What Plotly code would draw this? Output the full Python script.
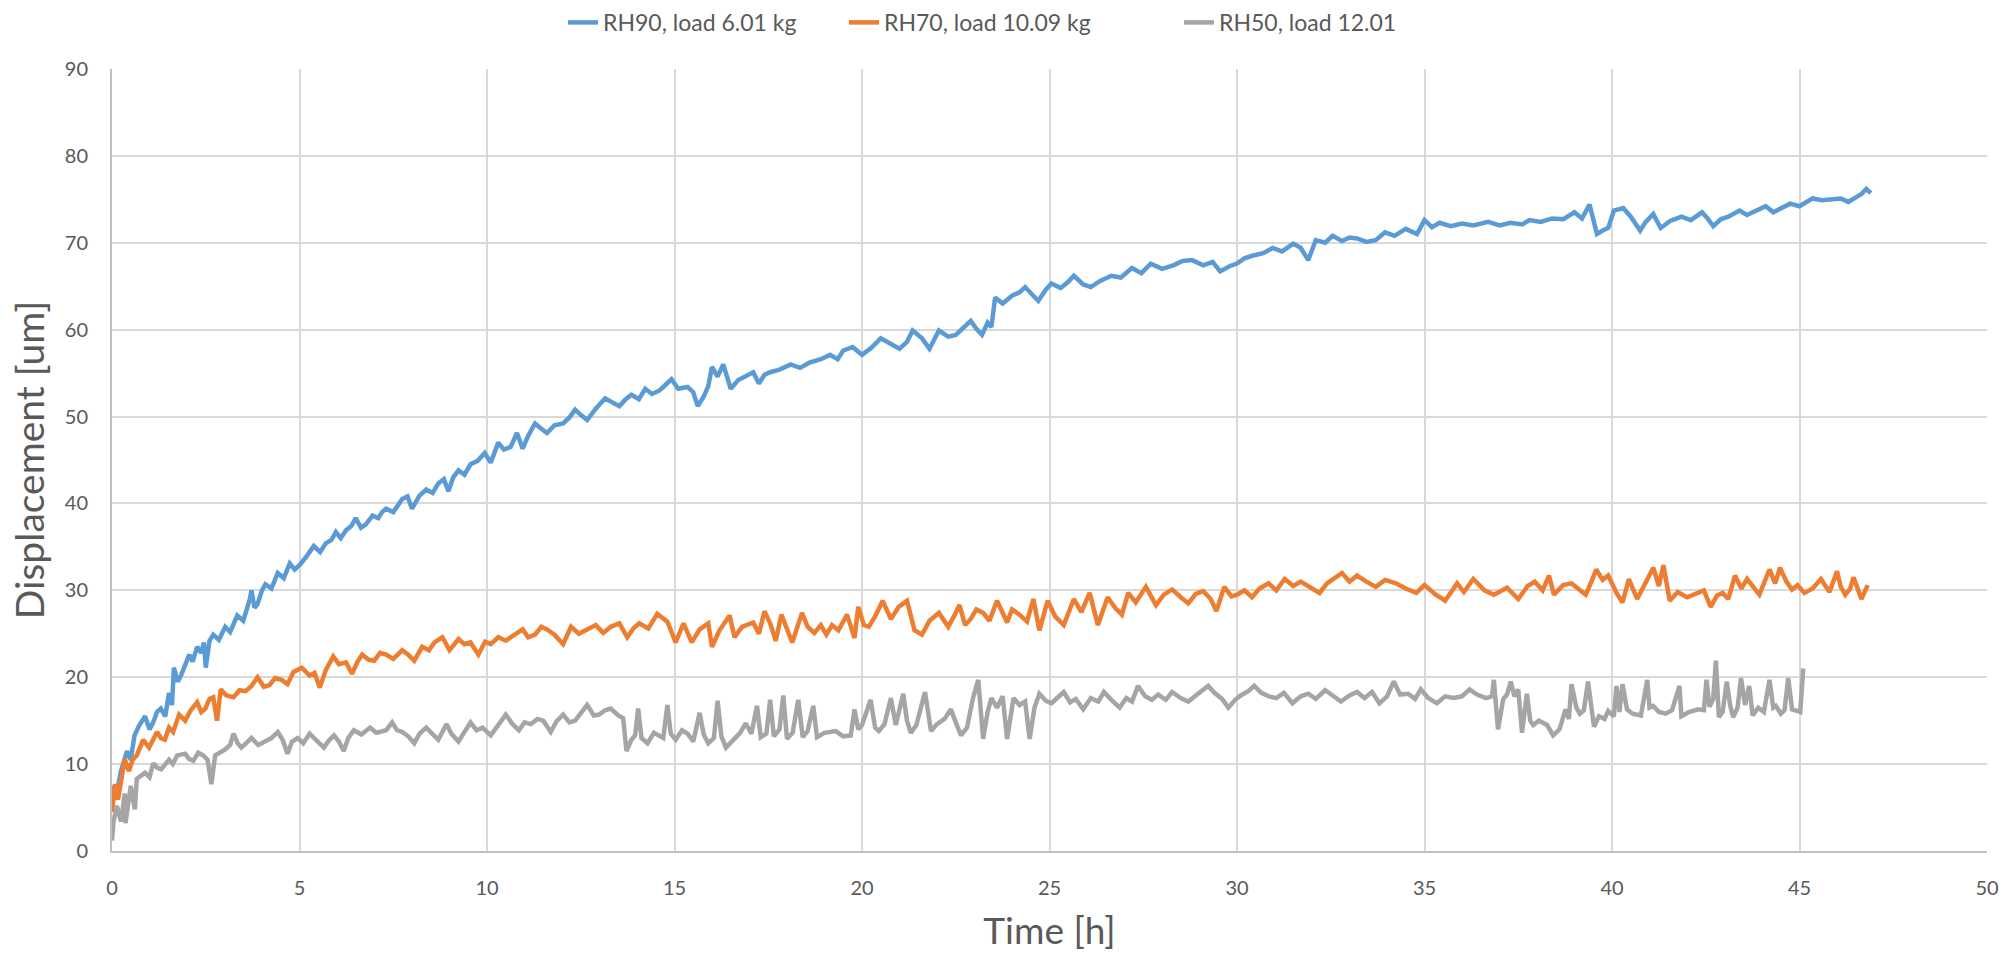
import plotly.graph_objects as go

# Creep displacement [um] vs time [h], sampled (time, displacement) readings per test
rh90 = [
    (0, 5.0), (0.05, 7.5), (0.12, 6.5), (0.24, 9.2), (0.4, 11.5), (0.5, 10.5), (0.6, 13.3), (0.72, 14.4),
    (0.88, 15.5), (1.0, 14.0), (1.1, 14.8), (1.2, 16.0), (1.3, 16.4), (1.42, 15.5), (1.52, 18.2), (1.6, 16.8),
    (1.65, 21.1), (1.75, 19.5), (1.84, 20.2), (1.95, 21.5), (2.06, 22.6), (2.15, 21.8), (2.27, 23.5), (2.38, 22.8),
    (2.45, 24.0), (2.5, 21.1), (2.6, 24.2), (2.7, 24.9), (2.85, 24.3), (3.02, 25.8), (3.15, 25.2), (3.34, 27.1),
    (3.5, 26.5), (3.67, 28.9), (3.72, 30.0), (3.8, 28.0), (3.88, 28.4), (4.0, 30.0), (4.09, 30.7), (4.25, 30.2),
    (4.42, 32.0), (4.58, 31.4), (4.74, 33.1), (4.87, 32.4), (5.0, 32.9), (5.17, 33.8), (5.38, 35.1), (5.55, 34.4),
    (5.7, 35.4), (5.85, 35.8), (5.97, 36.7), (6.1, 36.0), (6.24, 36.9), (6.38, 37.4), (6.5, 38.3), (6.64, 37.2),
    (6.77, 37.6), (6.95, 38.6), (7.1, 38.3), (7.2, 39.0), (7.31, 39.4), (7.5, 39.0), (7.74, 40.5), (7.88, 40.8),
    (8.0, 39.4), (8.2, 40.9), (8.38, 41.6), (8.55, 41.2), (8.7, 42.3), (8.85, 42.8), (8.97, 41.4), (9.1, 43.0),
    (9.24, 43.8), (9.4, 43.3), (9.56, 44.5), (9.75, 44.9), (9.94, 45.8), (10.1, 44.7), (10.3, 47.0), (10.45, 46.2),
    (10.63, 46.5), (10.8, 48.1), (10.95, 46.3), (11.1, 47.8), (11.28, 49.2), (11.45, 48.6), (11.6, 48.1), (11.8, 49.0),
    (12.03, 49.2), (12.2, 49.9), (12.35, 50.8), (12.5, 50.2), (12.67, 49.6), (12.9, 50.9), (13.15, 52.1), (13.35, 51.6),
    (13.53, 51.2), (13.7, 52.0), (13.85, 52.5), (14.05, 52.0), (14.22, 53.2), (14.4, 52.6), (14.6, 53.0), (14.75, 53.6),
    (14.92, 54.3), (15.1, 53.2), (15.35, 53.4), (15.5, 52.8), (15.62, 51.2), (15.78, 52.3), (15.9, 53.5), (16.0, 55.7),
    (16.15, 54.6), (16.3, 56.0), (16.5, 53.2), (16.7, 54.2), (16.9, 54.6), (17.1, 55.1), (17.25, 53.8), (17.4, 54.8),
    (17.55, 55.1), (17.8, 55.4), (18.1, 56.0), (18.35, 55.6), (18.6, 56.2), (18.9, 56.6), (19.15, 57.1), (19.35, 56.6),
    (19.5, 57.6), (19.75, 58.0), (20.0, 57.1), (20.25, 57.9), (20.5, 59.0), (20.75, 58.4), (21.0, 57.8), (21.2, 58.6),
    (21.35, 59.9), (21.6, 59.0), (21.8, 57.8), (22.05, 59.9), (22.3, 59.2), (22.5, 59.4), (22.7, 60.2), (22.9, 61.0),
    (23.05, 60.1), (23.2, 59.4), (23.35, 60.8), (23.45, 60.3), (23.55, 63.7), (23.75, 63.0), (24.0, 63.9), (24.2, 64.3),
    (24.35, 64.9), (24.55, 64.0), (24.7, 63.3), (24.9, 64.6), (25.05, 65.3), (25.3, 64.8), (25.5, 65.5), (25.65, 66.2),
    (25.9, 65.2), (26.1, 64.9), (26.35, 65.6), (26.65, 66.2), (26.9, 66.0), (27.2, 67.1), (27.45, 66.5), (27.7, 67.6),
    (28.0, 67.0), (28.3, 67.4), (28.55, 67.9), (28.8, 68.0), (29.1, 67.4), (29.35, 67.8), (29.55, 66.7), (29.8, 67.3),
    (30.0, 67.6), (30.2, 68.2), (30.4, 68.5), (30.7, 68.8), (30.95, 69.4), (31.2, 69.0), (31.5, 69.9), (31.7, 69.4),
    (31.9, 68.0), (32.1, 70.3), (32.35, 70.0), (32.55, 70.8), (32.8, 70.2), (33.0, 70.6), (33.2, 70.5), (33.45, 70.1),
    (33.7, 70.3), (33.95, 71.2), (34.2, 70.8), (34.5, 71.6), (34.8, 71.0), (35.0, 72.6), (35.2, 71.8), (35.4, 72.3),
    (35.7, 71.9), (36.0, 72.2), (36.3, 72.0), (36.7, 72.4), (37.0, 72.0), (37.3, 72.3), (37.6, 72.1), (37.8, 72.6),
    (38.1, 72.4), (38.4, 72.8), (38.7, 72.7), (39.0, 73.5), (39.2, 72.8), (39.4, 74.4), (39.6, 71.0), (39.75, 71.4),
    (39.9, 71.7), (40.05, 73.7), (40.3, 74.0), (40.5, 73.0), (40.75, 71.4), (40.9, 72.4), (41.1, 73.3), (41.3, 71.7),
    (41.55, 72.5), (41.85, 73.0), (42.1, 72.6), (42.4, 73.5), (42.55, 72.8), (42.7, 71.9), (42.9, 72.7), (43.1, 73.0),
    (43.4, 73.7), (43.6, 73.2), (43.8, 73.6), (44.1, 74.2), (44.3, 73.5), (44.5, 74.0), (44.75, 74.5), (45.0, 74.2),
    (45.2, 74.8), (45.35, 75.1), (45.6, 74.9), (45.85, 75.0), (46.1, 75.1), (46.3, 74.7), (46.5, 75.3), (46.65, 75.6),
    (46.78, 76.2), (46.9, 75.7),
]

rh70 = [
    (0, 4.5), (0.08, 7.7), (0.16, 5.9), (0.25, 8.5), (0.34, 10.6), (0.45, 9.2), (0.55, 10.5), (0.66, 11.0),
    (0.83, 12.8), (0.99, 11.9), (1.1, 13.0), (1.2, 13.7), (1.3, 13.0), (1.41, 12.8), (1.52, 14.2), (1.63, 13.7),
    (1.79, 15.7), (1.95, 15.0), (2.1, 16.2), (2.27, 17.1), (2.38, 16.0), (2.49, 16.4), (2.6, 17.5), (2.7, 17.7),
    (2.8, 15.0), (2.9, 18.6), (3.05, 17.9), (3.24, 17.7), (3.4, 18.5), (3.56, 18.4), (3.72, 19.0), (3.88, 20.0),
    (4.05, 18.9), (4.2, 19.1), (4.35, 19.9), (4.52, 19.7), (4.68, 19.2), (4.84, 20.6), (5.06, 21.1), (5.27, 20.2),
    (5.4, 20.5), (5.54, 18.8), (5.7, 20.8), (5.9, 22.4), (6.05, 21.5), (6.24, 21.7), (6.4, 20.4), (6.55, 21.8),
    (6.67, 22.6), (6.85, 22.0), (6.99, 21.9), (7.15, 22.8), (7.31, 22.6), (7.5, 22.1), (7.74, 23.1), (7.9, 22.6),
    (8.06, 21.9), (8.27, 23.5), (8.45, 23.1), (8.6, 24.0), (8.81, 24.6), (9.0, 23.1), (9.24, 24.4), (9.4, 23.8),
    (9.56, 24.0), (9.77, 22.6), (9.95, 24.1), (10.1, 23.8), (10.3, 24.6), (10.5, 24.2), (10.7, 24.8), (10.95, 25.5),
    (11.1, 24.6), (11.28, 24.9), (11.45, 25.8), (11.6, 25.5), (11.8, 24.9), (12.03, 23.8), (12.24, 25.8), (12.45, 25.0),
    (12.67, 25.5), (12.9, 26.0), (13.1, 25.1), (13.3, 25.8), (13.53, 26.2), (13.74, 24.6), (13.9, 25.6), (14.06, 26.2),
    (14.3, 25.6), (14.54, 27.3), (14.81, 26.4), (15.03, 24.0), (15.24, 26.2), (15.46, 24.0), (15.67, 25.5), (15.9, 26.2),
    (16.0, 23.5), (16.2, 25.4), (16.47, 27.1), (16.6, 24.6), (16.8, 25.8), (17.1, 26.3), (17.25, 25.0), (17.4, 27.6),
    (17.55, 26.2), (17.7, 24.2), (17.85, 27.2), (18.0, 25.5), (18.14, 24.0), (18.4, 27.4), (18.55, 25.8), (18.73, 25.1),
    (18.9, 26.0), (19.05, 24.9), (19.2, 26.0), (19.37, 25.4), (19.6, 27.2), (19.8, 24.5), (19.9, 28.1), (20.05, 26.0),
    (20.18, 25.8), (20.35, 27.0), (20.55, 28.8), (20.77, 26.7), (20.98, 28.1), (21.2, 28.8), (21.4, 25.4), (21.6, 24.9),
    (21.8, 26.5), (22.05, 27.4), (22.3, 25.8), (22.45, 27.0), (22.6, 28.3), (22.75, 26.0), (22.9, 26.7), (23.05, 27.8),
    (23.23, 27.4), (23.4, 26.5), (23.6, 28.8), (23.87, 26.3), (24.0, 27.8), (24.2, 27.2), (24.4, 26.4), (24.57, 29.0),
    (24.73, 25.4), (24.95, 28.8), (25.15, 27.0), (25.38, 26.0), (25.65, 29.0), (25.85, 27.5), (26.07, 29.7), (26.29, 26.0),
    (26.55, 29.2), (26.75, 28.0), (26.93, 27.2), (27.1, 29.7), (27.3, 28.6), (27.57, 30.4), (27.84, 28.3), (28.05, 29.5),
    (28.27, 30.1), (28.5, 29.2), (28.7, 28.5), (28.9, 29.6), (29.1, 29.9), (29.3, 29.0), (29.45, 27.6), (29.66, 30.4),
    (29.85, 29.3), (30.0, 29.5), (30.2, 30.0), (30.4, 29.2), (30.6, 30.2), (30.84, 30.8), (31.05, 30.0), (31.27, 31.3),
    (31.5, 30.5), (31.7, 31.0), (31.95, 30.4), (32.2, 29.7), (32.4, 30.8), (32.55, 31.3), (32.8, 32.0), (33.0, 31.0),
    (33.2, 31.7), (33.45, 31.0), (33.7, 30.4), (33.95, 31.2), (34.24, 30.8), (34.5, 30.2), (34.78, 29.7), (35.0, 30.6),
    (35.3, 29.5), (35.55, 28.8), (35.87, 30.8), (36.05, 29.8), (36.3, 31.3), (36.6, 30.0), (36.85, 29.5), (37.2, 30.3),
    (37.5, 29.0), (37.75, 30.5), (37.94, 31.0), (38.15, 30.0), (38.32, 31.7), (38.45, 29.5), (38.7, 30.6), (38.92, 30.8),
    (39.1, 30.2), (39.3, 29.5), (39.45, 31.0), (39.58, 32.4), (39.75, 31.2), (39.9, 31.7), (40.12, 29.7), (40.28, 28.6),
    (40.45, 31.3), (40.67, 29.0), (40.85, 30.5), (41.1, 32.6), (41.25, 30.5), (41.37, 32.9), (41.54, 28.8), (41.75, 29.8),
    (42.0, 29.2), (42.2, 29.5), (42.45, 30.0), (42.63, 28.1), (42.8, 29.4), (42.95, 29.7), (43.1, 29.0), (43.28, 31.7),
    (43.45, 30.2), (43.6, 31.3), (43.75, 30.5), (43.93, 29.5), (44.2, 32.4), (44.35, 30.8), (44.48, 32.6), (44.65, 31.0),
    (44.8, 30.1), (44.95, 30.6), (45.13, 29.7), (45.35, 30.2), (45.57, 31.3), (45.8, 29.8), (46.0, 32.2), (46.1, 30.4),
    (46.22, 29.5), (46.35, 30.2), (46.44, 31.5), (46.55, 30.0), (46.65, 29.0), (46.82, 30.6),
]

rh50 = [
    (0, 1.2), (0.04, 3.4), (0.13, 5.2), (0.24, 3.4), (0.34, 6.6), (0.36, 3.2), (0.5, 7.5), (0.61, 4.8),
    (0.66, 8.3), (0.88, 9.0), (1.0, 8.5), (1.1, 10.1), (1.2, 9.6), (1.31, 9.4), (1.52, 10.5), (1.62, 10.0),
    (1.74, 11.0), (1.95, 11.2), (2.05, 10.6), (2.17, 10.4), (2.3, 11.3), (2.43, 11.0), (2.55, 10.5), (2.65, 7.7),
    (2.75, 11.0), (2.9, 11.4), (3.02, 11.7), (3.15, 12.2), (3.24, 13.5), (3.35, 12.4), (3.45, 11.9), (3.6, 12.5),
    (3.72, 13.0), (3.9, 12.2), (4.09, 12.6), (4.25, 13.0), (4.42, 13.7), (4.55, 12.8), (4.68, 11.2), (4.8, 12.6),
    (4.95, 13.0), (5.1, 12.4), (5.27, 13.5), (5.45, 12.8), (5.65, 11.9), (5.8, 12.8), (5.92, 13.3), (6.05, 12.6),
    (6.18, 11.5), (6.3, 13.0), (6.45, 13.9), (6.65, 13.4), (6.88, 14.2), (7.05, 13.6), (7.31, 13.9), (7.47, 14.8),
    (7.6, 13.9), (7.74, 13.7), (7.9, 13.2), (8.06, 12.4), (8.2, 13.5), (8.38, 14.2), (8.55, 13.4), (8.7, 12.8),
    (8.92, 14.6), (9.05, 13.5), (9.24, 12.6), (9.4, 13.8), (9.56, 14.8), (9.72, 13.9), (9.88, 14.2), (10.1, 13.3),
    (10.3, 14.5), (10.5, 15.7), (10.68, 14.6), (10.85, 13.9), (11.0, 14.8), (11.17, 14.6), (11.35, 15.2), (11.5, 15.0),
    (11.7, 13.7), (11.85, 14.9), (12.03, 15.7), (12.2, 14.8), (12.35, 15.0), (12.5, 15.8), (12.67, 16.8), (12.85, 15.6),
    (12.99, 15.7), (13.15, 16.2), (13.3, 16.4), (13.5, 15.6), (13.63, 15.3), (13.72, 11.5), (13.85, 12.8), (13.95, 13.3),
    (14.03, 16.4), (14.12, 13.0), (14.28, 12.4), (14.45, 13.6), (14.6, 13.3), (14.7, 13.0), (14.81, 16.8), (14.9, 13.5),
    (15.03, 12.8), (15.2, 13.9), (15.35, 13.5), (15.5, 12.6), (15.67, 15.9), (15.78, 13.4), (15.9, 12.4), (16.05, 13.0),
    (16.15, 17.3), (16.25, 13.2), (16.37, 11.9), (16.58, 12.8), (16.75, 13.6), (16.9, 14.7), (17.05, 13.5), (17.2, 16.7),
    (17.3, 13.1), (17.45, 13.5), (17.55, 17.4), (17.65, 13.2), (17.8, 14.0), (17.9, 17.9), (18.0, 12.9), (18.15, 13.6),
    (18.3, 17.4), (18.42, 13.1), (18.55, 13.8), (18.7, 16.7), (18.8, 13.1), (19.0, 13.6), (19.3, 13.8), (19.5, 13.2),
    (19.7, 13.3), (19.8, 16.3), (19.9, 14.0), (20.0, 14.5), (20.23, 17.4), (20.35, 14.2), (20.45, 13.8), (20.6, 14.6),
    (20.77, 17.6), (20.9, 14.5), (21.1, 18.1), (21.2, 15.0), (21.3, 13.6), (21.45, 14.5), (21.68, 18.3), (21.84, 13.8),
    (22.0, 14.6), (22.2, 15.2), (22.37, 16.3), (22.5, 14.8), (22.64, 13.3), (22.8, 14.2), (22.96, 17.6), (23.1, 19.7),
    (23.23, 12.9), (23.35, 16.0), (23.45, 17.6), (23.6, 16.5), (23.75, 17.8), (23.87, 12.9), (24.04, 17.6), (24.2, 16.8),
    (24.35, 17.2), (24.47, 12.9), (24.6, 16.5), (24.73, 18.1), (24.9, 17.3), (25.05, 17.0), (25.2, 17.6), (25.38, 18.3),
    (25.55, 17.1), (25.7, 17.5), (25.9, 16.3), (26.1, 17.6), (26.3, 17.2), (26.45, 18.3), (26.65, 17.4), (26.87, 16.5),
    (27.05, 17.6), (27.2, 17.2), (27.36, 19.0), (27.55, 17.8), (27.73, 17.4), (27.9, 18.0), (28.1, 17.4), (28.27, 18.3),
    (28.5, 17.6), (28.7, 17.2), (28.9, 17.9), (29.05, 18.4), (29.23, 19.0), (29.4, 18.2), (29.6, 17.5), (29.77, 16.5),
    (29.95, 17.4), (30.1, 17.9), (30.3, 18.4), (30.46, 19.0), (30.65, 18.2), (30.85, 17.8), (31.05, 17.6), (31.25, 18.2),
    (31.48, 17.0), (31.7, 17.8), (31.9, 18.1), (32.1, 17.5), (32.35, 18.5), (32.55, 17.9), (32.77, 17.2), (33.0, 17.9),
    (33.2, 18.3), (33.4, 17.6), (33.6, 18.3), (33.8, 17.0), (34.0, 17.8), (34.18, 19.5), (34.35, 18.0), (34.56, 18.1),
    (34.75, 17.5), (34.9, 18.6), (35.1, 17.6), (35.33, 17.0), (35.55, 17.8), (35.77, 17.6), (36.0, 17.8), (36.2, 18.6),
    (36.4, 18.0), (36.64, 17.6), (36.8, 17.8), (36.85, 19.7), (36.96, 14.0), (37.1, 17.5), (37.2, 18.0), (37.3, 19.5),
    (37.4, 17.8), (37.5, 18.6), (37.6, 13.6), (37.73, 18.1), (37.82, 15.0), (37.9, 14.5), (38.05, 15.0), (38.27, 14.5),
    (38.43, 13.3), (38.6, 14.0), (38.76, 16.3), (38.85, 15.2), (38.92, 19.2), (39.05, 16.5), (39.14, 15.8), (39.25, 16.2),
    (39.36, 19.5), (39.52, 14.3), (39.65, 15.5), (39.8, 15.2), (39.9, 16.1), (40.05, 15.5), (40.12, 19.0), (40.2, 16.0),
    (40.28, 19.2), (40.4, 16.3), (40.55, 15.8), (40.77, 15.6), (40.94, 19.7), (41.0, 16.5), (41.1, 16.7), (41.25, 16.0),
    (41.43, 15.8), (41.6, 16.2), (41.8, 19.0), (41.85, 15.5), (42.05, 16.0), (42.3, 16.3), (42.45, 16.2), (42.52, 19.7),
    (42.6, 16.6), (42.7, 17.5), (42.77, 21.9), (42.85, 15.4), (42.95, 16.0), (43.06, 19.5), (43.15, 16.8), (43.23, 15.4),
    (43.35, 16.5), (43.44, 19.9), (43.55, 16.8), (43.66, 19.0), (43.75, 15.6), (43.9, 16.5), (44.05, 16.0), (44.2, 19.7),
    (44.3, 16.5), (44.37, 16.7), (44.5, 15.8), (44.6, 16.2), (44.7, 19.9), (44.8, 16.3), (44.9, 16.1), (45.02, 16.0),
    (45.1, 21.0),
]

series_names = ["RH90, load 6.01 kg", "RH70, load 10.09 kg", "RH50, load 12.01"]
series_colors = ["#5B9BD5", "#ED7D31", "#A5A5A5"]

x_ticks = list(range(0, 51, 5))
y_ticks = list(range(0, 91, 10))

FONT = "Lato, 'Open Sans', sans-serif"
TEXT = "#595959"
GRID = "#D9D9D9"

# one legend per series so each entry sits at its own spot along the top
legend_ids = ["legend", "legend2", "legend3"]
legend_left_px = [563, 844, 1179]

fig = go.Figure()
for name, color, data, lid in zip(series_names, series_colors, [rh90, rh70, rh50], legend_ids):
    t, d = zip(*data)
    fig.add_trace(go.Scatter(
        x=list(t), y=list(d), mode="lines", name=name, legend=lid,
        line=dict(color=color, width=4.5),
    ))

legend_style = dict(
    orientation="h", xref="container", yref="container",
    xanchor="left", y=0.999, yanchor="top",
    font=dict(family=FONT, size=23, color=TEXT),
    bgcolor="rgba(0,0,0,0)",
)
legends = {lid: dict(legend_style, x=px / 2013) for lid, px in zip(legend_ids, legend_left_px)}

fig.update_layout(
    width=2013, height=957,
    margin=dict(l=112, r=26, t=66, b=105),
    paper_bgcolor="white", plot_bgcolor="white",
    font=dict(family=FONT, color=TEXT, size=20),
    showlegend=True,
    **legends,
    xaxis=dict(
        range=[0, 50], tickvals=x_ticks, showgrid=True, gridcolor=GRID, gridwidth=2,
        zeroline=False, showline=True, linecolor="#BFBFBF", linewidth=2,
        ticks="", ticklabelstandoff=18, tickfont=dict(size=20, color=TEXT),
        title=dict(text="Time [h]", font=dict(size=37, color=TEXT), standoff=20),
    ),
    yaxis=dict(
        range=[0, 90], tickvals=y_ticks, showgrid=True, gridcolor=GRID, gridwidth=2,
        zeroline=False, showline=True, linecolor="#BFBFBF", linewidth=2,
        ticks="", ticklabelstandoff=18, tickfont=dict(size=20, color=TEXT),
        title=dict(text="Displacement [um]", font=dict(size=39, color=TEXT), standoff=8),
    ),
)

fig.write_html("out.html")
